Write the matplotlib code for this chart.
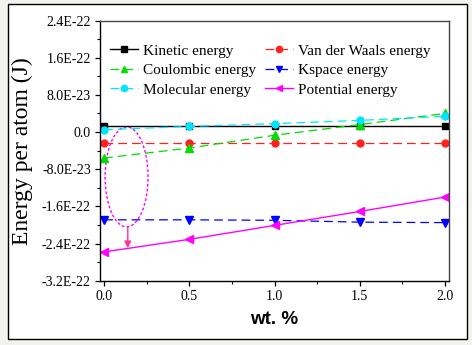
import matplotlib
matplotlib.use("Agg")
import matplotlib.pyplot as plt
from matplotlib.patches import Ellipse, Rectangle

# Energy components (J per atom) against filler content
wt = [0.0, 0.5, 1.0, 1.5, 2.0]
kinetic = [1.2e-23, 1.2e-23, 1.2e-23, 1.2e-23, 1.2e-23]
vdw = [-2.4e-23, -2.4e-23, -2.4e-23, -2.4e-23, -2.4e-23]
coulombic = [-5.6e-23, -3.45e-23, -0.7e-23, 1.6e-23, 4.0e-23]
kspace = [-1.89e-22, -1.89e-22, -1.90e-22, -1.94e-22, -1.95e-22]
molecular = [0.5e-23, 1.2e-23, 1.8e-23, 2.5e-23, 3.4e-23]
potential = [-2.58e-22, -2.31e-22, -2.01e-22, -1.71e-22, -1.40e-22]

yticks = [2.4e-22, 1.6e-22, 8.0e-23, 0.0, -8.0e-23, -1.6e-22, -2.4e-22, -3.2e-22]
ytick_labels = ["2.4E-22", "1.6E-22", "8.0E-23", "0.0", "-8.0E-23",
                "-1.6E-22", "-2.4E-22", "-3.2E-22"]
xticks = [0.0, 0.5, 1.0, 1.5, 2.0]
xtick_labels = ["0.0", "0.5", "1.0", "1.5", "2.0"]

serif = ["Liberation Serif", "DejaVu Serif"]

fig = plt.figure(figsize=(4.72, 3.45), dpi=100)
fig.patch.set_facecolor("#f2f2ee")
fig.patches.append(Rectangle((8 / 472, 6 / 345), 459 / 472, 335 / 345,
                             transform=fig.transFigure, facecolor="white",
                             edgecolor="black", linewidth=1.0, zorder=-5))

ax = fig.add_axes([100 / 472, 64.3 / 345, 349 / 472, 260.2 / 345])

dash = (7, 4)
l_kin, = ax.plot(wt, kinetic, color="black", lw=1.0, marker="s", ms=4.5,
                 label="Kinetic energy")
l_vdw, = ax.plot(wt, vdw, color="#ff2020", lw=0.9, dashes=dash, marker="o", ms=5,
                 label="Van der Waals energy")
l_coul, = ax.plot(wt, coulombic, color="#00dd00", lw=0.9, dashes=dash,
                  marker="^", ms=5.5, label="Coulombic energy")
l_ksp, = ax.plot(wt, kspace, color="#0000ff", lw=0.9, dashes=dash, marker="v",
                 ms=5.5, label="Kspace energy")
l_mol, = ax.plot(wt, molecular, color="#00e5ff", lw=0.9, dashes=dash,
                 marker="o", ms=5, label="Molecular energy")
l_pot, = ax.plot(wt, potential, color="#ff00ff", lw=1.0, marker="<", ms=5.5,
                 label="Potential energy")

# dotted ellipse around the low-content points, with arrow to the potential curve
ax.add_patch(Ellipse((0.132, -9.66e-23), 0.252, 2.15e-22, fill=False,
                     edgecolor="#ff00ff", lw=1.0, linestyle=(0, (2, 1.5))))
ax.annotate("", xy=(0.139, -2.5e-22), xytext=(0.139, -2.05e-22),
            arrowprops=dict(arrowstyle="-|>", color="#ff3399", lw=1.0,
                            mutation_scale=10, shrinkA=0, shrinkB=0))

ax.set_xlim(-0.024, 2.024)
ax.set_ylim(-3.2e-22, 2.4e-22)
ax.set_xticks(xticks)
ax.set_xticklabels(xtick_labels, family=serif, fontsize=10)
ax.set_xticks([0.25, 0.75, 1.25, 1.75], minor=True)
ax.set_yticks(yticks)
ax.set_yticklabels(ytick_labels, family=serif, fontsize=10)
ax.set_yticks([2.0e-22, 1.2e-22, 4e-23, -4e-23, -1.2e-22, -2.0e-22, -2.8e-22],
              minor=True)
ax.tick_params(which="major", direction="out", length=3.6, width=0.9, pad=3)
ax.tick_params(which="minor", direction="out", length=2.2, width=0.8)

for side in ["left", "bottom"]:
    ax.spines[side].set_color("black")
    ax.spines[side].set_linewidth(1.0)
for side in ["top", "right"]:
    ax.spines[side].set_color("#444444")
    ax.spines[side].set_linewidth(1.0)

ax.set_xlabel("wt. %", family="Liberation Sans", fontsize=13.5,
              fontweight="bold", labelpad=6)
fig.text(22 / 472, 1 - 151 / 345, "Energy per atom (J)", family=serif,
         fontsize=17, rotation=90, ha="center", va="center")

# legend fills column by column, so list entries to read row by row
handles = [l_kin, l_coul, l_mol, l_vdw, l_ksp, l_pot]
ax.legend(handles=handles, ncol=2, loc="upper left",
          bbox_to_anchor=(0.029, 0.91), frameon=False,
          prop={"family": serif, "size": 11},
          handlelength=1.8, handletextpad=0.35, columnspacing=0.6,
          labelspacing=0.38, borderpad=0, borderaxespad=0, markerscale=0.9)

fig.savefig("out.png", dpi=100, facecolor=fig.get_facecolor())
